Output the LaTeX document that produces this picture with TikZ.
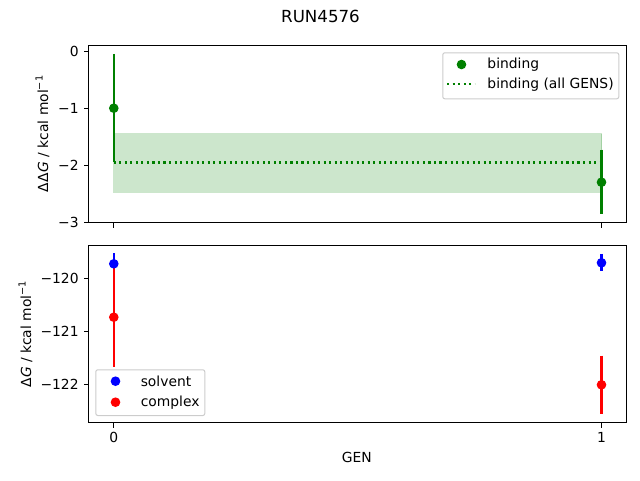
\documentclass[tikz,border=0pt]{standalone}
\usepackage{fontspec}
\setmainfont{DejaVu Sans}
\definecolor{mgreen}{HTML}{008000}
\definecolor{mblue}{HTML}{0000FF}
\definecolor{mred}{HTML}{FF0000}
\definecolor{leggray}{HTML}{CCCCCC}
\tikzset{
  axisbox/.style={draw=black, line width=0.83pt},
  tickline/.style={draw=black, line width=0.83pt},
  ticklab/.style={font=\fontsize{10.4}{12}\selectfont, inner sep=0pt},
  errbar/.style={line width=1.56pt},
  marker/.style={circle, inner sep=0pt, minimum size=6.4pt, line width=0.75pt},
  legbox/.style={draw=leggray, fill=white, fill opacity=0.8, rounded corners=1.5pt, line width=0.75pt},
  legtext/.style={font=\fontsize{10.4}{12}\selectfont, inner sep=0pt, anchor=base west},
  mdotted/.style={line width=1.56pt, dash pattern=on 1.56pt off 2.58pt}
}
\newcommand{\kcalunit}{kcal mol\raisebox{0.75ex}{\fontsize{7.3}{8}\selectfont −1}}
\begin{document}
\begin{tikzpicture}[x=0.75pt,y=-0.75pt]
\useasboundingbox (0,0) rectangle (640,480);
\begin{scope}[shift={(0.5,0.5)}]
% ---------- title ----------
\node[font=\fontsize{12.5}{14}\selectfont, inner sep=0pt, anchor=base] (title) at (320,22) {RUN4576};

% ---------- top axes ----------
\fill[mgreen, fill opacity=0.2] (113.3,133.3) rectangle (601.3,191.7);
\draw[mgreen, opacity=0.2, line width=0.75pt] (113.3,133.3) rectangle (601.3,191.7);
\draw[mgreen, mdotted] (113.3,162) -- (601.3,162);
\draw[mgreen, errbar] (113.3,53.3) -- (113.3,161.7);
\node[marker, fill=mgreen, draw=mgreen] (b0) at (113.3,107.7) {};
\draw[mgreen, errbar] (601,149) -- (601,213.3);
\node[marker, fill=mgreen, draw=mgreen] (b1) at (601,181.7) {};
\draw[axisbox] (88.3,45) rectangle (625.7,222.2);
% y ticks top
\foreach \v/\lab in {0/0,1/−1,2/−2,3/−3}{
  \draw[tickline] (88.3,51.3+56.8*\v) -- (83.4,51.3+56.8*\v);
  \node[ticklab, anchor=east] at (78.4,51.3+56.8*\v) {\lab};
}
% x ticks top
\foreach \x in {113.3,601}{
  \draw[tickline] (\x,222.2) -- (\x,227.1);
}
\node[ticklab, rotate=90] (ylab1) at (42,133.5) {Δ\kern0.5ptΔ\textit{G} / \kcalunit};
% legend top
\draw[legbox] (442.3,52.3) rectangle (618.3,98.3);
\node[marker, fill=mgreen, draw=mgreen] (lb) at (461,64) {};
\node[legtext] (lbt) at (486.7,68.3) {binding};
\draw[mgreen, mdotted] (446.7,83.3) -- (474.3,83.3);
\node[legtext] (lat) at (486.7,87.6) {binding (all GENS)};

% ---------- bottom axes ----------
\draw[mblue, errbar] (113.3,252.7) -- (113.3,274);
\draw[mred, errbar] (113.3,266.7) -- (113.3,366);
\node[marker, fill=mblue, draw=mblue] (s0) at (113.3,263.3) {};
\node[marker, fill=mred, draw=mred] (c0) at (113.3,316.7) {};
\draw[mblue, errbar] (601,253.3) -- (601,270.7);
\node[marker, fill=mblue, draw=mblue] (s1) at (601,262.3) {};
\draw[mred, errbar] (601,355) -- (601,413.3);
\node[marker, fill=mred, draw=mred] (c1) at (601,384.3) {};
\draw[axisbox] (88.3,245) rectangle (625.7,422.3);
\foreach \v/\lab in {0/−120,1/−121,2/−122}{
  \draw[tickline] (88.3,277.7+53.3*\v) -- (83.4,277.7+53.3*\v);
  \node[ticklab, anchor=east] at (78.4,277.7+53.3*\v) {\lab};
}
\draw[tickline] (113.3,422.3) -- (113.3,427.2);
\draw[tickline] (601,422.3) -- (601,427.2);
\node[ticklab, anchor=base] (x0) at (113.3,441.7) {0};
\node[ticklab, anchor=base] (x1) at (601,441.7) {1};
\node[ticklab, anchor=base] (xlab) at (356.4,462.3) {GEN};
\node[ticklab, rotate=90] (ylab2) at (25,333.7) {Δ\textit{G} / \kcalunit};
% legend bottom
\draw[legbox] (95.3,369.3) rectangle (204.3,415);
\node[marker, fill=mblue, draw=mblue] (ls) at (115,380.7) {};
\node[legtext] (lst) at (140,385.7) {solvent};
\node[marker, fill=mred, draw=mred] (lc) at (115,401.7) {};
\node[legtext] (lct) at (140,406.1) {complex};
\end{scope}
\end{tikzpicture}
\end{document}
